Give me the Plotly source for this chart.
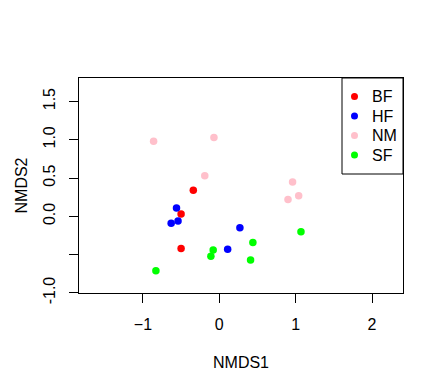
import plotly.graph_objects as go

groups = ["BF", "HF", "NM", "SF"]
colors = ["#FF0000", "#0000FF", "#FFC0CB", "#00FF00"]

bf_x = [-0.34, -0.50, -0.50]
bf_y = [0.34, 0.03, -0.42]
hf_x = [-0.56, -0.54, -0.63, 0.27, 0.11]
hf_y = [0.11, -0.06, -0.09, -0.15, -0.43]
nm_x = [-0.86, -0.07, -0.19, 0.96, 0.90, 1.04]
nm_y = [0.98, 1.03, 0.53, 0.45, 0.22, 0.27]
sf_x = [-0.83, -0.08, -0.11, 0.44, 0.41, 1.07]
sf_y = [-0.71, -0.44, -0.52, -0.34, -0.57, -0.20]

xs = [bf_x, hf_x, nm_x, sf_x]
ys = [bf_y, hf_y, nm_y, sf_y]

x_ticks = [-1, 0, 1, 2]
y_ticks = [-1.0, -0.5, 0.0, 0.5, 1.0, 1.5]
y_ticktext = ["-1.0", "", "0.0", "0.5", "1.0", "1.5"]

font = "Liberation Sans, Arial, sans-serif"

fig = go.Figure()
for g, c, x, y in zip(groups, colors, xs, ys):
    fig.add_trace(go.Scatter(x=x, y=y, mode="markers", name=g,
                             marker=dict(color=c, size=7.5, line=dict(width=0))))

# manual R-style legend (top-right, boxed)
shapes = [dict(type="rect", xref="paper", yref="paper",
               xsizemode="pixel", ysizemode="pixel", xanchor=1, yanchor=1,
               x0=-61, x1=0, y0=-96, y1=0,
               line=dict(color="black", width=1), fillcolor="white", layer="above")]
annotations = []
for i, (g, c) in enumerate(zip(groups, colors)):
    cy = -18.5 - 19.5 * i
    shapes.append(dict(type="circle", xref="paper", yref="paper",
                       xsizemode="pixel", ysizemode="pixel", xanchor=1, yanchor=1,
                       x0=-52, x1=-45, y0=cy - 3.5, y1=cy + 3.5,
                       line=dict(width=0), fillcolor=c, layer="above"))
    annotations.append(dict(text=g, x=1, y=1, xref="paper", yref="paper",
                            xanchor="left", yanchor="middle", xshift=-33, yshift=cy,
                            showarrow=False, font=dict(size=16)))

annotations += [
    dict(text="NMDS1", x=0.5, y=0, xref="paper", yref="paper",
         xanchor="center", yanchor="middle", yshift=-69, showarrow=False,
         font=dict(size=16)),
    dict(text="NMDS2", x=0, y=0.5, xref="paper", yref="paper",
         xanchor="center", yanchor="middle", xshift=-58, textangle=-90,
         showarrow=False, font=dict(size=16)),
]

fig.update_layout(
    width=444, height=392,
    margin=dict(l=79, r=41, t=78, b=99, autoexpand=False),
    paper_bgcolor="white", plot_bgcolor="white",
    font=dict(family=font, size=16, color="black"),
    showlegend=False,
    xaxis=dict(range=[-1.837, 2.406], tickvals=x_ticks, ticks="outside", ticklen=9,
               tickcolor="black", showgrid=False, zeroline=False, automargin=False,
               showline=True, linecolor="black", linewidth=1, mirror=True,
               ticklabelstandoff=8),
    yaxis=dict(range=[-1.001, 1.807], tickvals=y_ticks, ticktext=y_ticktext,
               tickangle=-90, ticks="outside", ticklen=9, automargin=False,
               tickcolor="black", showgrid=False, zeroline=False,
               showline=True, linecolor="black", linewidth=1, mirror=True,
               ticklabelstandoff=8),
    shapes=shapes,
    annotations=annotations,
)

fig.write_html("out.html", config={"displayModeBar": False},
               post_script="document.body.style.margin='0';document.body.style.padding='0';")
